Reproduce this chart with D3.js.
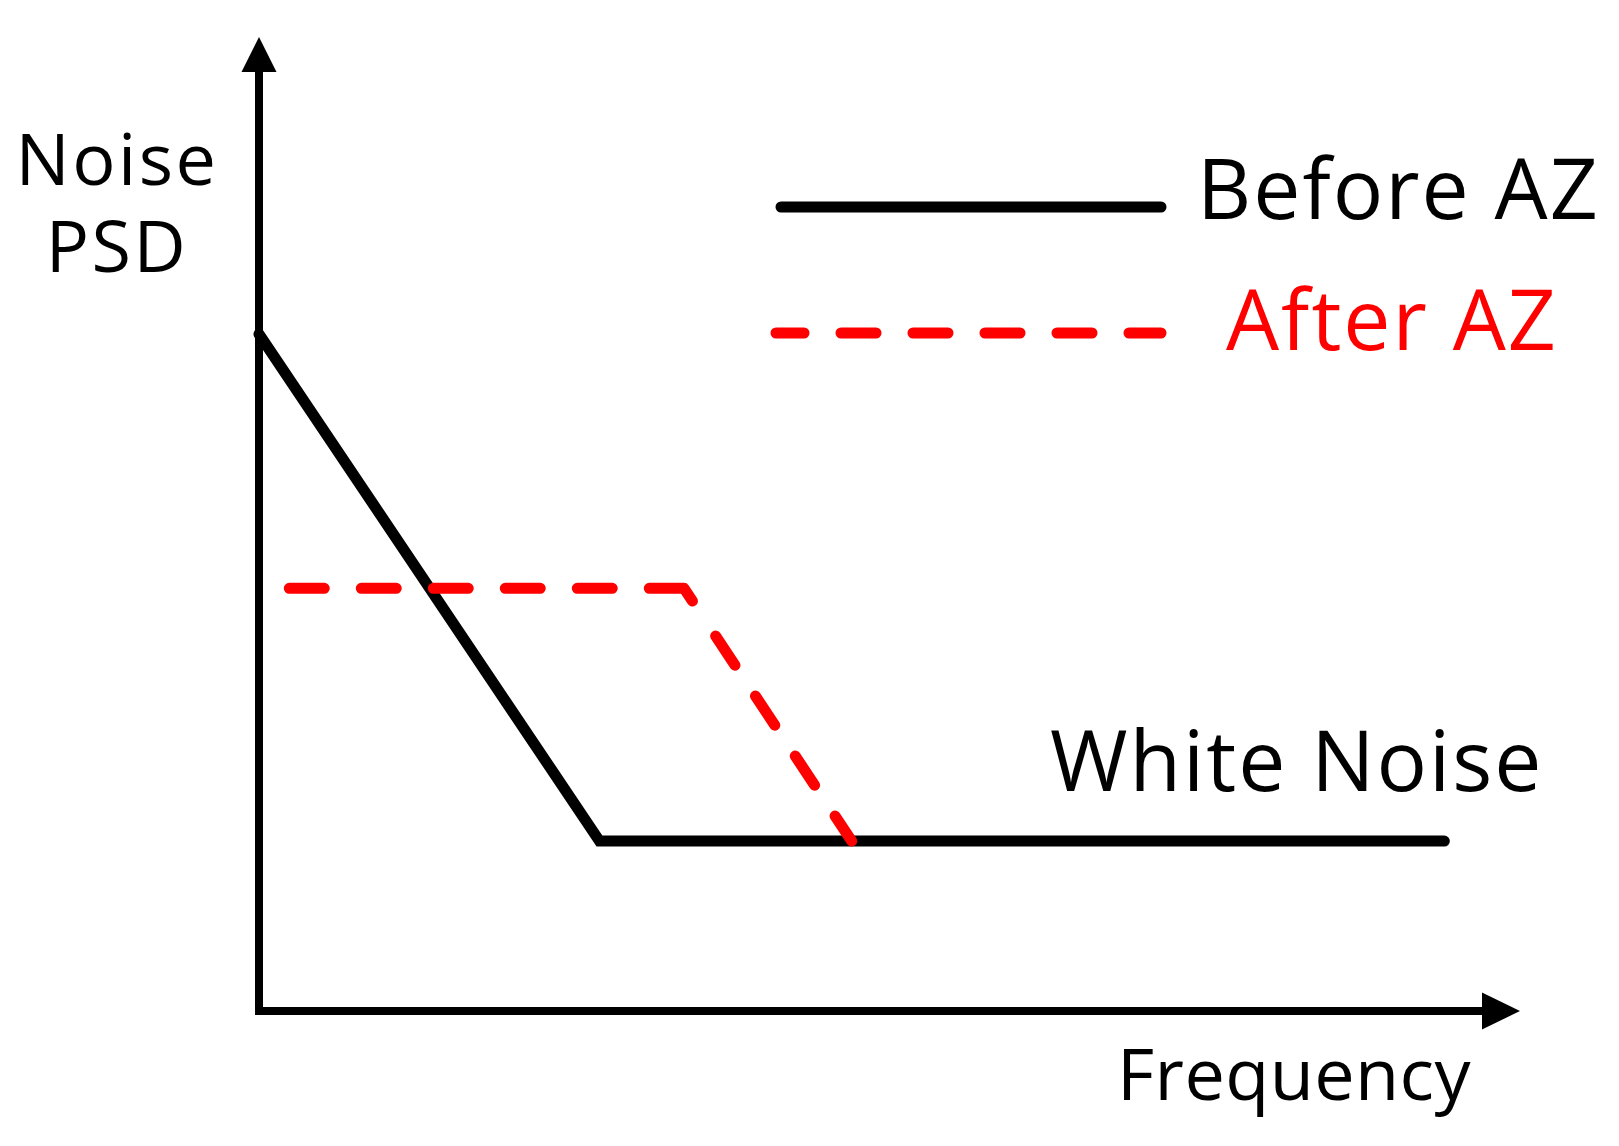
<!DOCTYPE html>
<html><head><meta charset="utf-8">
<script src="https://cdn.jsdelivr.net/npm/d3@7"></script>
<style>html,body{margin:0;padding:0;background:#fff;}svg{display:block;}</style>
</head><body>
<script>
// Data (arbitrary units: x = frequency, y = noise PSD)
const beforeAZ = [[0, 69.5], [27.0, 17.45], [94.0, 17.45]];
const afterAZ = [[2.4, 43.4], [33.7, 43.4], [47.0, 17.45]];
const seriesNames = ["Before AZ", "After AZ"];
const seriesColors = ["#000000", "#ff0000"];
const axisTitles = {x: "Frequency", y: ["Noise", "PSD"]};
const annotation = "White Noise";

const W = 1619, H = 1146;
const svg = d3.select("body").append("svg").attr("width", W).attr("height", H);
const x = d3.scaleLinear().domain([0, 100]).range([259, 1520]);
const y = d3.scaleLinear().domain([0, 100]).range([1011, 37]);
const font = "'Open Sans', 'Noto Sans', sans-serif";
const dashStyle = "35,37,35,37,35,37,35,37,35,37,50,42,35,37,35,37,35,37,35,100";

// axes with arrows
const ax = svg.append("g");
ax.append("line").attr("x1", x(0)).attr("y1", y(0) + 4).attr("x2", x(0)).attr("y2", y(100) + 30)
  .attr("stroke", "#000").attr("stroke-width", 8);
ax.append("line").attr("x1", x(0) - 4).attr("y1", y(0)).attr("x2", x(100) - 30).attr("y2", y(0))
  .attr("stroke", "#000").attr("stroke-width", 8);
ax.append("path").attr("d", `M${x(0)},${y(100)} L${x(0) - 17.5},${y(100) + 35} L${x(0) + 17.5},${y(100) + 35} Z`).attr("fill", "#000");
ax.append("path").attr("d", `M${x(100)},${y(0)} L${x(100) - 38},${y(0) - 18.5} L${x(100) - 38},${y(0) + 18.5} Z`).attr("fill", "#000");

const line = d3.line().x(d => x(d[0])).y(d => y(d[1]));
svg.append("path").datum(beforeAZ).attr("d", line).attr("fill", "none")
  .attr("stroke", seriesColors[0]).attr("stroke-width", 11).attr("stroke-linejoin", "miter").attr("stroke-linecap", "round");
svg.append("path").datum(afterAZ).attr("d", line).attr("fill", "none")
  .attr("stroke", seriesColors[1]).attr("stroke-width", 11).attr("stroke-linecap", "round")
  .attr("stroke-linejoin", "round").attr("stroke-dasharray", dashStyle);

// legend
const legY = [207, 333];
const legX1 = [781, 776];
const legTextX = [1197, 1226];
const legTextY = [219, 350];
seriesNames.forEach((n, i) => {
  svg.append("line").attr("x1", legX1[i]).attr("x2", 1161).attr("y1", legY[i]).attr("y2", legY[i])
    .attr("stroke", seriesColors[i]).attr("stroke-width", 11).attr("stroke-linecap", "round")
    .attr("stroke-dasharray", i === 1 ? "35,37" : null)
    .attr("stroke-dashoffset", i === 1 ? 7 : null);
  svg.append("text").attr("x", legTextX[i]).attr("y", legTextY[i]).text(n)
    .attr("font-family", font).attr("font-size", 84).attr("letter-spacing", 2).attr("fill", seriesColors[i]);
});

svg.append("text").attr("x", 1050).attr("y", 791).text(annotation)
  .attr("font-family", font).attr("font-size", 84).attr("letter-spacing", 2).attr("fill", "#000");
svg.append("text").attr("x", 1117).attr("y", 1100).text(axisTitles.x)
  .attr("font-family", font).attr("font-size", 72).attr("letter-spacing", 0.4).attr("fill", "#000");
const yTitle = svg.append("text").attr("text-anchor", "middle")
  .attr("font-family", font).attr("font-size", 72).attr("letter-spacing", 2.5).attr("fill", "#000");
axisTitles.y.forEach((t, i) => {
  yTitle.append("tspan").attr("x", 117).attr("y", [185, 272][i]).text(t);
});
</script>
</body></html>
